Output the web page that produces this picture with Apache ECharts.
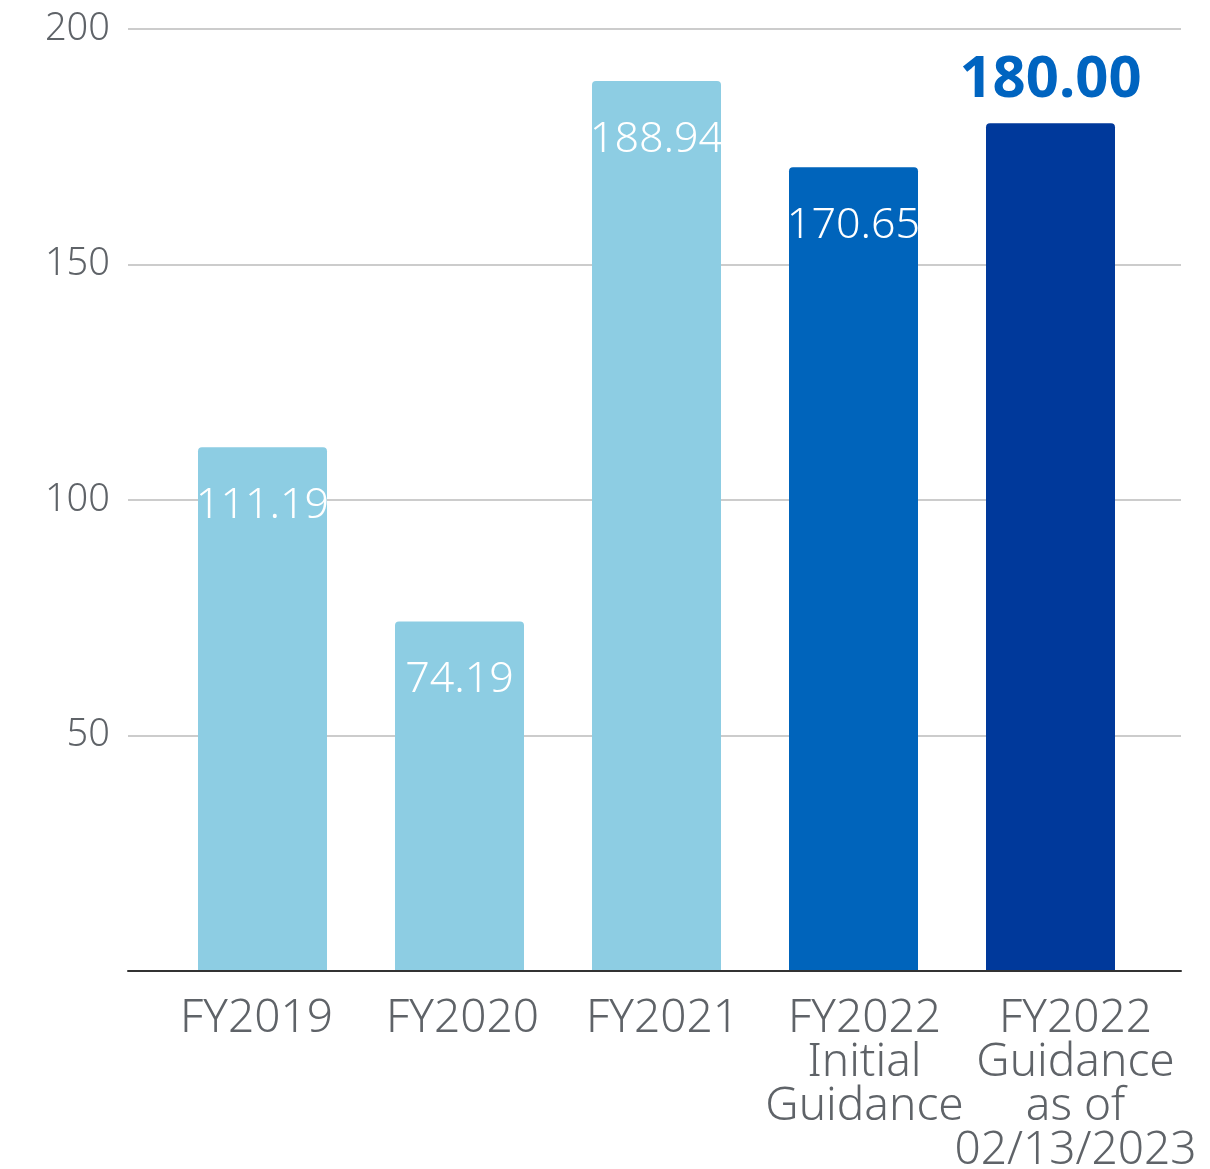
<!DOCTYPE html>
<html>
<head>
<meta charset="utf-8">
<script src="https://cdn.jsdelivr.net/npm/echarts@6/dist/echarts.min.js"></script>
<style>
  html, body { margin: 0; padding: 0; background: #fff; }
  #chart { width: 1210px; height: 1169px; }
</style>
</head>
<body>
<div id="chart"></div>
<script>
// data
const categories = ['FY2019', 'FY2020', 'FY2021', 'FY2022\nInitial\nGuidance', 'FY2022\nGuidance\nas of\n02/13/2023']
const values = [111.19, 74.19, 188.94, 170.65, 180.00]
const barColors = ['#8dcde3', '#8dcde3', '#8dcde3', '#0064bb', '#00399b']
const yTicks = [0, 50, 100, 150, 200]

const font = 'Noto Sans'
const labelShift = [-6, 3, 6, 11, 25] // small nudges of the category labels

const barData = values.map((v, i) => {
  const item = {value: v, itemStyle: {color: barColors[i], borderRadius: [4, 4, 0, 0]}}
  if (i === values.length - 1) {
    item.label = {
      position: 'top', distance: 14, color: '#0064c0', fontSize: 58, fontWeight: 'bold'
    }
  }
  return item
})

const rich = {}
labelShift.forEach((s, i) => {
  rich['c' + i] = {
    padding: s > 0 ? [0, 0, 0, 2 * s] : [0, -2 * s, 0, 0],
    fontFamily: font, fontWeight: 300, fontSize: 46, lineHeight: 44, color: '#5f6368'
  }
})

const chart = echarts.init(document.getElementById('chart'))
chart.setOption({
  animation: false,
  grid: [
    {left: 128, right: 29, top: 29, bottom: 198, outerBoundsMode: 'none'}, // lines + y labels
    {left: 164, right: 61, top: 29, bottom: 198, outerBoundsMode: 'none'}  // bars
  ],
  xAxis: [
    {
      gridIndex: 0, type: 'value', min: 0, max: 1, z: 5,
      axisLine: {show: true, lineStyle: {color: '#333', width: 2}},
      axisTick: {show: false}, axisLabel: {show: false}, splitLine: {show: false}
    },
    {
      gridIndex: 1, type: 'category', data: categories,
      axisLine: {show: false}, axisTick: {show: false},
      axisLabel: {
        interval: 0, margin: 26,
        formatter: (v, i) => v.split('\n').map(s => '{c' + i + '|' + s + '}').join('\n'),
        rich: rich
      }
    }
  ],
  yAxis: [
    {
      gridIndex: 0, type: 'value', min: yTicks[0], max: yTicks[yTicks.length - 1], interval: 50,
      axisLine: {show: false}, axisTick: {show: false},
      axisLabel: {
        margin: 18, color: '#5f6368', fontFamily: font, fontWeight: 300, fontSize: 38,
        formatter: v => v === 0 ? '' : v
      },
      splitLine: {lineStyle: {color: '#cccccc', width: 2}}
    },
    {
      gridIndex: 1, type: 'value', min: 0, max: 200, show: false
    }
  ],
  series: [
    {
      type: 'bar',
      xAxisIndex: 1, yAxisIndex: 1,
      barWidth: 129,
      data: barData,
      label: {
        show: true, position: 'insideTop', distance: 37,
        color: '#fff', fontFamily: font, fontWeight: 300, fontSize: 43,
        formatter: p => p.value.toFixed(2)
      }
    }
  ]
})
</script>
</body>
</html>
